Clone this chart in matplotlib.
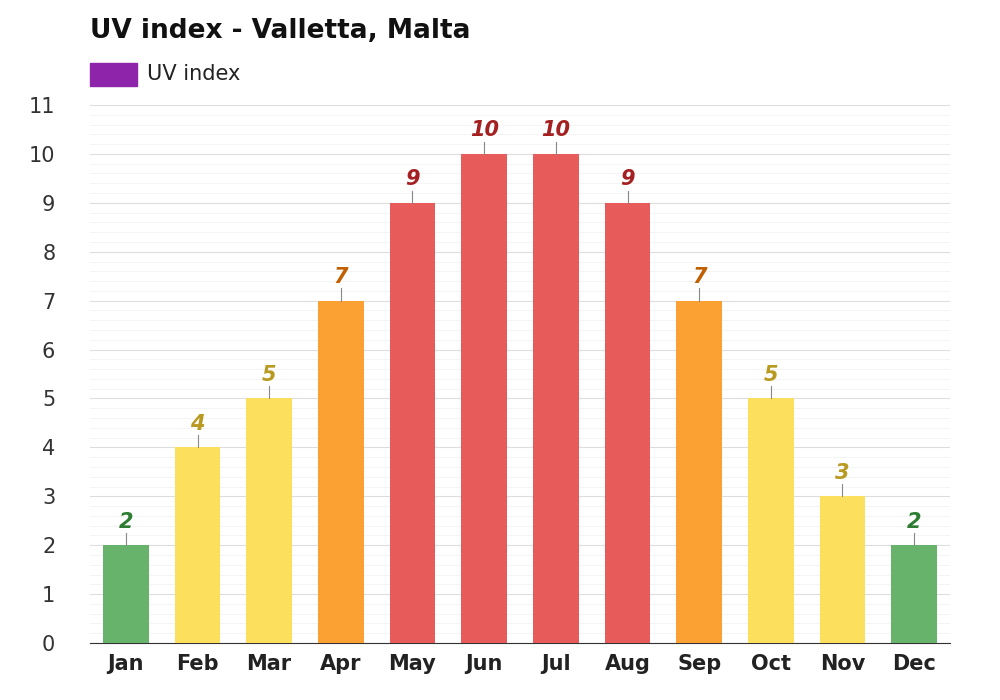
import matplotlib
matplotlib.use("Agg")
import matplotlib.pyplot as plt
import numpy as np

months = ["Jan","Feb","Mar","Apr","May","Jun","Jul","Aug","Sep","Oct","Nov","Dec"]
uv = [2,4,5,7,9,10,10,9,7,5,3,2]

def colors(v):
    if v <= 2: return "#68b36b", "#2e7d32"
    if v <= 5: return "#fddf5e", "#b89a20"
    if v <= 7: return "#fba033", "#c06000"
    return "#e85b5b", "#a52020"

fig = plt.figure(figsize=(10, 7), dpi=100)
ax = fig.add_axes([0.09, 0.0814, 0.86, 0.7686])
x = np.arange(len(months))
for i, v in enumerate(uv):
    fc, tc = colors(v)
    ax.bar(i, v, width=0.64, color=fc, zorder=3)
    ax.plot([i, i], [v, v + 0.25], color="#888888", lw=0.8, zorder=3)
    ax.text(i, v + 0.28, str(v), ha="center", va="bottom", fontsize=15,
            fontweight="bold", style="italic", color=tc)

ax.set_xlim(-0.5, 11.5)
ax.set_ylim(0, 11)
ax.set_yticks(range(0, 12))
ax.set_yticks(np.arange(0, 11, 0.2), minor=True)
ax.grid(axis="y", which="major", color="#dddddd", lw=0.8, zorder=0)
ax.grid(axis="y", which="minor", color="#f2f2f2", lw=0.6, zorder=0)
ax.set_xticks(x)
ax.set_xticklabels(months, fontsize=15, fontweight="bold", color="#222222")
ax.tick_params(axis="y", labelsize=15, colors="#333333", length=0, pad=25)
ax.tick_params(axis="x", length=0, pad=8)
ax.tick_params(which="minor", length=0)
for s in ["top", "right", "left"]:
    ax.spines[s].set_visible(False)
ax.spines["bottom"].set_color("#333333")

fig.text(0.09, 0.955, "UV index - Valletta, Malta", fontsize=19, fontweight="bold",
         va="center", color="#111111")
fig.patches.append(matplotlib.patches.Rectangle((0.09, 0.877), 0.047, 0.033,
                   transform=fig.transFigure, color="#8e24aa"))
fig.text(0.147, 0.894, "UV index", fontsize=15, va="center", color="#222222")

fig.savefig("out.png", dpi=100, facecolor="white")
